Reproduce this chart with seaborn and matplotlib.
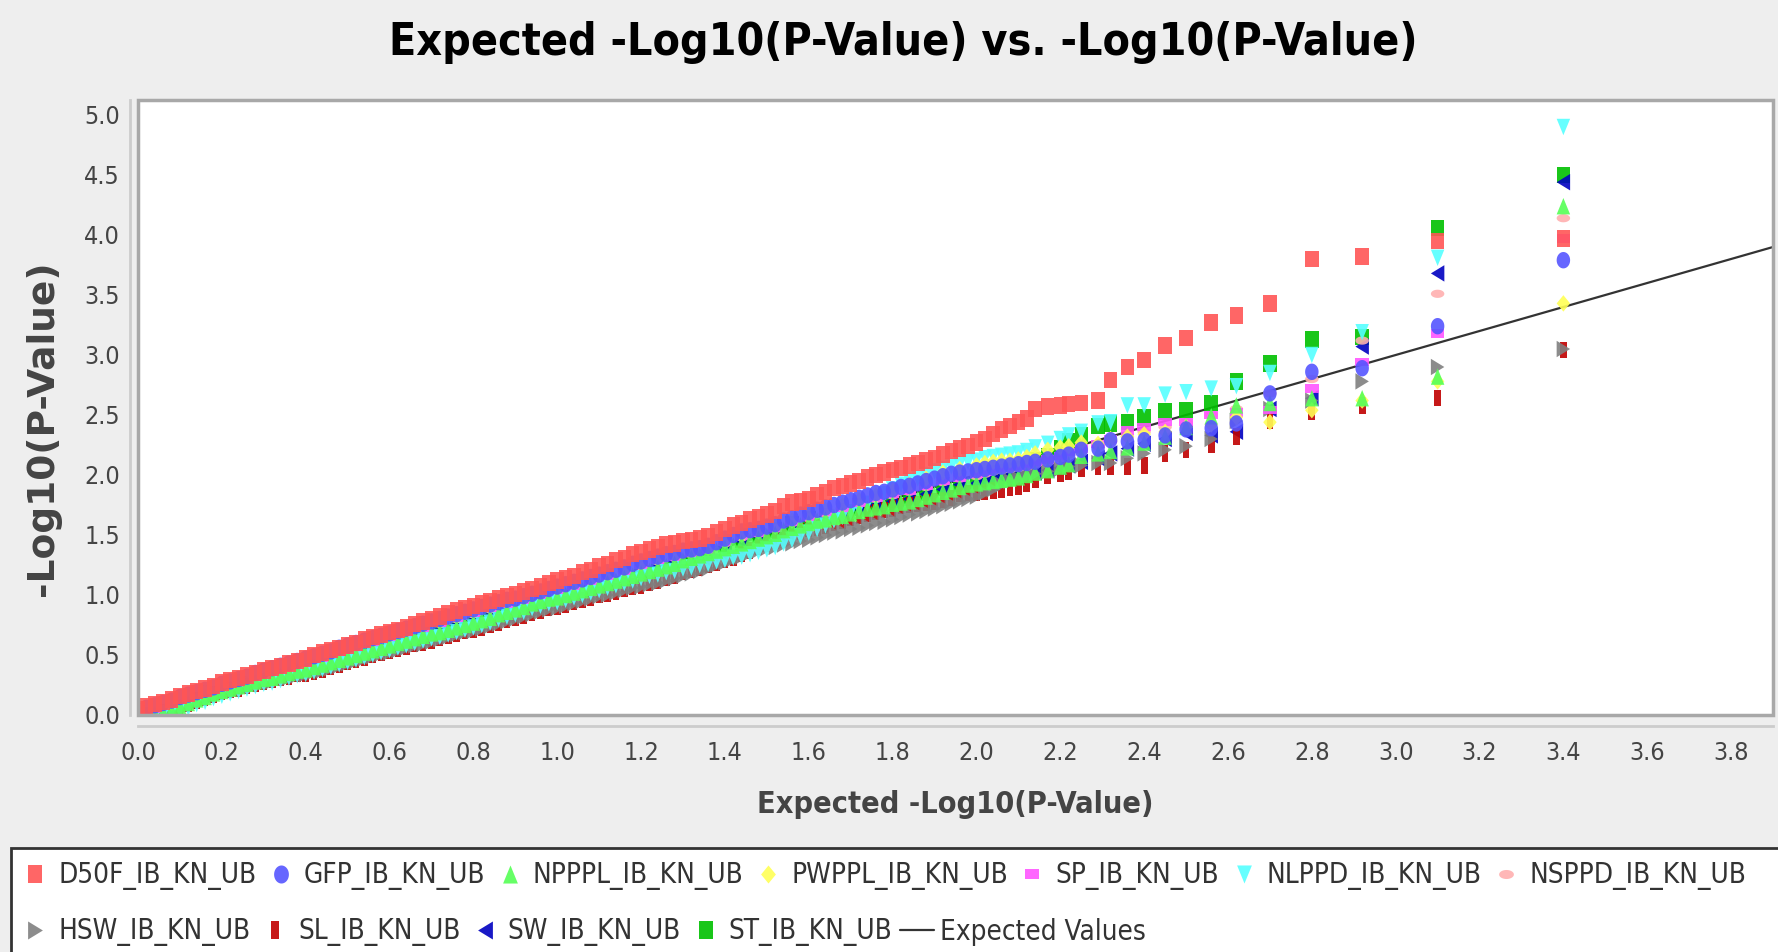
import numpy as np
import pandas as pd
import seaborn as sns
import matplotlib.pyplot as plt
from matplotlib import font_manager
from matplotlib.lines import Line2D
from matplotlib.patches import Rectangle
from matplotlib.path import Path

sns.set_style("white")

# pick a narrow face if there is one, the original text is quite condensed
fonts = font_manager.fontManager.ttflist
if any(f.name == "DejaVu Sans Condensed" for f in fonts):
    family, stretch, k = "DejaVu Sans Condensed", "normal", 1.0
elif any(f.name == "DejaVu Sans" and f.stretch != "normal" for f in fonts):
    family, stretch, k = "DejaVu Sans", "condensed", 1.0
elif any(f.name == "Liberation Sans Narrow" for f in fonts):
    family, stretch, k = "Liberation Sans Narrow", "normal", 1.05
else:
    family, stretch, k = "DejaVu Sans", "normal", 0.88
plt.rcParams["font.family"] = [family, "DejaVu Sans"]
plt.rcParams["font.stretch"] = stretch

series = ["D50F_IB_KN_UB", "GFP_IB_KN_UB", "NPPPL_IB_KN_UB", "PWPPL_IB_KN_UB",
          "SP_IB_KN_UB", "NLPPD_IB_KN_UB", "NSPPD_IB_KN_UB", "HSW_IB_KN_UB",
          "SL_IB_KN_UB", "SW_IB_KN_UB", "ST_IB_KN_UB"]

# expected -log10(p) positions: fine grid for the dense part of the visible
# bands, a coarser grid for the bands hidden inside them, then the top ranks
x_fine = [0.00, 0.02, 0.04, 0.06, 0.08, 0.10, 0.12, 0.14, 0.16, 0.18,
          0.20, 0.22, 0.24, 0.26, 0.28, 0.30, 0.32, 0.34, 0.36, 0.38,
          0.40, 0.42, 0.44, 0.46, 0.48, 0.50, 0.52, 0.54, 0.56, 0.58,
          0.60, 0.62, 0.64, 0.66, 0.68, 0.70, 0.72, 0.74, 0.76, 0.78,
          0.80, 0.82, 0.84, 0.86, 0.88, 0.90, 0.92, 0.94, 0.96, 0.98,
          1.00, 1.02, 1.04, 1.06, 1.08, 1.10, 1.12, 1.14, 1.16, 1.18,
          1.20, 1.22, 1.24, 1.26, 1.28, 1.30, 1.32, 1.34, 1.36, 1.38,
          1.40, 1.42, 1.44, 1.46, 1.48, 1.50, 1.52, 1.54, 1.56, 1.58,
          1.60, 1.62, 1.64, 1.66, 1.68, 1.70, 1.72, 1.74, 1.76, 1.78,
          1.80, 1.82, 1.84, 1.86, 1.88, 1.90, 1.92, 1.94, 1.96, 1.98]
x_coarse = [0.00, 0.04, 0.08, 0.12, 0.16, 0.20, 0.24, 0.28, 0.32, 0.36,
            0.40, 0.44, 0.48, 0.52, 0.56, 0.60, 0.64, 0.68, 0.72, 0.76,
            0.80, 0.84, 0.88, 0.92, 0.96, 1.00, 1.04, 1.08, 1.12, 1.16,
            1.20, 1.24, 1.28, 1.32, 1.36, 1.40, 1.44, 1.48, 1.52, 1.56,
            1.60, 1.64, 1.68, 1.72, 1.76, 1.80, 1.84, 1.88, 1.92, 1.96]
x_tail = [2.00, 2.02, 2.04, 2.06, 2.08, 2.10, 2.12, 2.14, 2.17, 2.20,
          2.22, 2.25, 2.29, 2.32, 2.36, 2.40, 2.45, 2.50, 2.56, 2.62,
          2.70, 2.80, 2.92, 3.10, 3.40]

# visible bands (fine grid + tail)
d50f = [0.05, 0.07, 0.09, 0.11, 0.13, 0.16, 0.18, 0.20, 0.22, 0.24,
        0.27, 0.29, 0.31, 0.33, 0.35, 0.37, 0.39, 0.41, 0.43, 0.45,
        0.47, 0.50, 0.52, 0.54, 0.56, 0.58, 0.60, 0.63, 0.65, 0.67,
        0.69, 0.71, 0.73, 0.76, 0.78, 0.80, 0.82, 0.85, 0.87, 0.89,
        0.91, 0.93, 0.95, 0.97, 0.99, 1.01, 1.03, 1.05, 1.07, 1.10,
        1.12, 1.14, 1.16, 1.19, 1.21, 1.24, 1.26, 1.29, 1.31, 1.34,
        1.36, 1.38, 1.40, 1.42, 1.43, 1.45, 1.46, 1.47, 1.49, 1.52,
        1.55, 1.58, 1.60, 1.63, 1.65, 1.67, 1.70, 1.74, 1.77, 1.78,
        1.80, 1.83, 1.86, 1.89, 1.91, 1.93, 1.95, 1.98, 2.00, 2.02,
        2.04, 2.06, 2.08, 2.10, 2.12, 2.14, 2.17, 2.20, 2.22, 2.24,
        2.27, 2.30, 2.34, 2.38, 2.41, 2.44, 2.47, 2.55, 2.57, 2.58,
        2.59, 2.60, 2.62, 2.79, 2.90, 2.96, 3.08, 3.14, 3.27, 3.33,
        3.43, 3.80, 3.82, 3.95, 3.97]
gfp = [0.03, 0.06, 0.08, 0.10, 0.12, 0.15, 0.17, 0.19, 0.21, 0.23,
       0.26, 0.28, 0.30, 0.32, 0.35, 0.37, 0.39, 0.41, 0.43, 0.45,
       0.47, 0.49, 0.51, 0.53, 0.56, 0.58, 0.60, 0.62, 0.64, 0.66,
       0.68, 0.70, 0.72, 0.74, 0.76, 0.78, 0.80, 0.82, 0.84, 0.86,
       0.88, 0.90, 0.92, 0.94, 0.96, 0.97, 0.99, 1.01, 1.03, 1.05,
       1.07, 1.09, 1.11, 1.13, 1.15, 1.17, 1.19, 1.21, 1.23, 1.26,
       1.28, 1.30, 1.32, 1.34, 1.35, 1.37, 1.38, 1.39, 1.41, 1.44,
       1.47, 1.50, 1.53, 1.54, 1.55, 1.57, 1.59, 1.62, 1.64, 1.67,
       1.69, 1.71, 1.73, 1.75, 1.77, 1.79, 1.81, 1.83, 1.85, 1.86,
       1.88, 1.90, 1.91, 1.93, 1.95, 1.97, 1.99, 2.01, 2.02, 2.03,
       2.04, 2.05, 2.06, 2.07, 2.08, 2.09, 2.10, 2.11, 2.13, 2.15,
       2.17, 2.21, 2.22, 2.29, 2.28, 2.29, 2.33, 2.38, 2.39, 2.43,
       2.68, 2.86, 2.89, 3.24, 3.79]
npppl = [0.00, 0.00, 0.01, 0.02, 0.04, 0.07, 0.10, 0.13, 0.15, 0.18,
         0.20, 0.22, 0.24, 0.26, 0.28, 0.30, 0.31, 0.33, 0.35, 0.37,
         0.38, 0.40, 0.42, 0.44, 0.46, 0.48, 0.50, 0.52, 0.54, 0.56,
         0.58, 0.60, 0.62, 0.64, 0.66, 0.68, 0.69, 0.71, 0.73, 0.75,
         0.77, 0.79, 0.81, 0.84, 0.86, 0.88, 0.90, 0.93, 0.95, 0.97,
         0.98, 1.00, 1.02, 1.04, 1.06, 1.08, 1.10, 1.12, 1.14, 1.16,
         1.18, 1.20, 1.22, 1.24, 1.26, 1.29, 1.31, 1.33, 1.35, 1.37,
         1.39, 1.41, 1.43, 1.45, 1.47, 1.49, 1.51, 1.54, 1.56, 1.58,
         1.60, 1.62, 1.63, 1.65, 1.66, 1.68, 1.70, 1.72, 1.73, 1.74,
         1.76, 1.77, 1.78, 1.80, 1.82, 1.84, 1.86, 1.88, 1.90, 1.92,
         1.93, 1.94, 1.95, 1.96, 1.97, 1.98, 2.00, 2.02, 2.04, 2.07,
         2.09, 2.16, 2.18, 2.20, 2.23, 2.27, 2.32, 2.40, 2.49, 2.58,
         2.60, 2.64, 2.64, 2.82, 4.24]
nlppd = [0.00, 0.00, 0.00, 0.01, 0.02, 0.04, 0.06, 0.09, 0.11, 0.14,
         0.16, 0.18, 0.20, 0.22, 0.24, 0.26, 0.27, 0.29, 0.31, 0.33,
         0.34, 0.36, 0.38, 0.40, 0.42, 0.44, 0.46, 0.48, 0.50, 0.52,
         0.54, 0.56, 0.58, 0.60, 0.62, 0.64, 0.65, 0.67, 0.69, 0.71,
         0.73, 0.75, 0.77, 0.80, 0.82, 0.84, 0.86, 0.89, 0.91, 0.93,
         0.94, 0.96, 0.98, 1.00, 1.02, 1.04, 1.06, 1.08, 1.10, 1.12,
         1.14, 1.16, 1.17, 1.19, 1.20, 1.22, 1.23, 1.25, 1.26, 1.28,
         1.29, 1.31, 1.32, 1.34, 1.36, 1.38, 1.40, 1.43, 1.46, 1.49,
         1.52, 1.55, 1.58, 1.62, 1.65, 1.69, 1.72, 1.76, 1.80, 1.84,
         1.88, 1.92, 1.95, 1.97, 2.00, 2.03, 2.05, 2.07, 2.09, 2.11,
         2.12, 2.14, 2.15, 2.16, 2.17, 2.18, 2.20, 2.23, 2.26, 2.30,
         2.33, 2.36, 2.43, 2.44, 2.58, 2.58, 2.67, 2.69, 2.72, 2.74,
         2.85, 3.00, 3.19, 3.81, 4.90]
hsw = [0.00, 0.00, 0.00, 0.01, 0.03, 0.05, 0.08, 0.11, 0.13, 0.16,
       0.18, 0.20, 0.21, 0.23, 0.25, 0.27, 0.28, 0.30, 0.31, 0.33,
       0.34, 0.36, 0.37, 0.39, 0.41, 0.43, 0.45, 0.47, 0.49, 0.51,
       0.52, 0.54, 0.56, 0.58, 0.59, 0.61, 0.63, 0.65, 0.67, 0.69,
       0.70, 0.72, 0.74, 0.76, 0.78, 0.80, 0.82, 0.84, 0.86, 0.88,
       0.89, 0.91, 0.93, 0.95, 0.97, 0.99, 1.00, 1.02, 1.04, 1.06,
       1.07, 1.09, 1.10, 1.12, 1.14, 1.16, 1.18, 1.20, 1.22, 1.25,
       1.27, 1.30, 1.32, 1.35, 1.37, 1.39, 1.40, 1.42, 1.43, 1.45,
       1.46, 1.48, 1.50, 1.52, 1.53, 1.55, 1.56, 1.58, 1.60, 1.61,
       1.63, 1.65, 1.67, 1.68, 1.70, 1.72, 1.74, 1.76, 1.78, 1.80,
       1.82, 1.85, 1.88, 1.92, 1.95, 1.97, 1.99, 2.01, 2.03, 2.05,
       2.07, 2.08, 2.10, 2.10, 2.14, 2.18, 2.21, 2.24, 2.30, 2.45,
       2.55, 2.62, 2.78, 2.90, 3.05]
sl = [0.00, 0.00, 0.01, 0.02, 0.04, 0.06, 0.09, 0.12, 0.14, 0.17,
      0.19, 0.21, 0.22, 0.24, 0.26, 0.28, 0.29, 0.31, 0.32, 0.34,
      0.345, 0.36, 0.38, 0.40, 0.42, 0.44, 0.46, 0.48, 0.50, 0.52,
      0.535, 0.55, 0.57, 0.59, 0.60, 0.62, 0.64, 0.66, 0.68, 0.70,
      0.71, 0.73, 0.75, 0.77, 0.79, 0.81, 0.83, 0.85, 0.87, 0.89,
      0.90, 0.92, 0.94, 0.96, 0.98, 1.00, 1.01, 1.03, 1.05, 1.07,
      1.08, 1.10, 1.12, 1.14, 1.16, 1.19, 1.21, 1.23, 1.25, 1.27,
      1.29, 1.31, 1.34, 1.37, 1.40, 1.43, 1.45, 1.48, 1.50, 1.53,
      1.55, 1.56, 1.58, 1.60, 1.62, 1.64, 1.66, 1.68, 1.69, 1.71,
      1.72, 1.74, 1.75, 1.76, 1.77, 1.78, 1.79, 1.81, 1.84, 1.85,
      1.85, 1.86, 1.87, 1.88, 1.89, 1.90, 1.93, 1.96, 1.99, 2.01,
      2.03, 2.05, 2.07, 2.07, 2.07, 2.08, 2.18, 2.21, 2.25, 2.32,
      2.45, 2.53, 2.58, 2.64, 3.04]

# bands that sit inside the others in the dense part (coarse grid + tail)
pwppl = [0.01, 0.06, 0.10, 0.15, 0.19, 0.24, 0.28, 0.33, 0.37, 0.41,
         0.45, 0.49, 0.54, 0.58, 0.62, 0.66, 0.70, 0.74, 0.78, 0.82,
         0.86, 0.90, 0.94, 0.97, 1.01, 1.05, 1.09, 1.13, 1.17, 1.21,
         1.26, 1.30, 1.33, 1.36, 1.39, 1.45, 1.50, 1.53, 1.57, 1.62,
         1.67, 1.71, 1.75, 1.79, 1.83, 1.87, 1.92, 1.97, 2.02, 2.05,
         2.08, 2.10, 2.11, 2.12, 2.12, 2.13, 2.15, 2.18, 2.21, 2.23,
         2.24, 2.27, 2.26, 2.30, 2.32, 2.34, 2.36, 2.40, 2.42, 2.48,
         2.44, 2.54, 2.62, 2.78, 3.43]
sp = [0.00, 0.05, 0.09, 0.14, 0.18, 0.23, 0.27, 0.32, 0.36, 0.40,
      0.44, 0.48, 0.53, 0.57, 0.61, 0.65, 0.69, 0.73, 0.77, 0.81,
      0.85, 0.89, 0.93, 0.96, 1.00, 1.04, 1.08, 1.12, 1.16, 1.20,
      1.25, 1.29, 1.32, 1.35, 1.38, 1.44, 1.49, 1.52, 1.56, 1.61,
      1.65, 1.69, 1.73, 1.77, 1.81, 1.84, 1.87, 1.91, 1.95, 1.98,
      2.01, 2.03, 2.05, 2.06, 2.07, 2.08, 2.09, 2.11, 2.13, 2.16,
      2.19, 2.22, 2.26, 2.30, 2.37, 2.40, 2.44, 2.44, 2.50, 2.52,
      2.54, 2.72, 2.94, 3.18, 3.97]
nsppd = [0.00, 0.04, 0.08, 0.13, 0.17, 0.22, 0.26, 0.31, 0.35, 0.39,
         0.43, 0.47, 0.52, 0.56, 0.60, 0.64, 0.68, 0.72, 0.76, 0.80,
         0.84, 0.88, 0.92, 0.95, 0.99, 1.03, 1.07, 1.11, 1.15, 1.19,
         1.24, 1.28, 1.31, 1.34, 1.37, 1.43, 1.48, 1.51, 1.55, 1.60,
         1.64, 1.68, 1.72, 1.76, 1.80, 1.83, 1.86, 1.90, 1.94, 1.97,
         1.99, 2.01, 2.03, 2.04, 2.05, 2.06, 2.07, 2.09, 2.11, 2.14,
         2.17, 2.20, 2.24, 2.28, 2.32, 2.36, 2.40, 2.44, 2.50, 2.55,
         2.68, 2.80, 3.12, 3.51, 4.14]
sw = [0.02, 0.03, 0.06, 0.12, 0.17, 0.22, 0.26, 0.30, 0.33, 0.37,
      0.40, 0.44, 0.48, 0.52, 0.56, 0.60, 0.64, 0.68, 0.71, 0.75,
      0.79, 0.83, 0.88, 0.92, 0.97, 1.00, 1.04, 1.08, 1.12, 1.16,
      1.20, 1.24, 1.28, 1.33, 1.37, 1.41, 1.45, 1.49, 1.53, 1.58,
      1.62, 1.65, 1.68, 1.72, 1.75, 1.78, 1.80, 1.84, 1.88, 1.92,
      1.93, 1.94, 1.95, 1.96, 1.97, 1.98, 2.00, 2.02, 2.04, 2.06,
      2.08, 2.11, 2.14, 2.18, 2.22, 2.26, 2.30, 2.35, 2.33, 2.36,
      2.55, 2.64, 3.07, 3.68, 4.44]
st = [0.03, 0.04, 0.07, 0.13, 0.18, 0.23, 0.27, 0.31, 0.34, 0.38,
      0.41, 0.45, 0.49, 0.53, 0.57, 0.61, 0.65, 0.69, 0.72, 0.76,
      0.80, 0.84, 0.89, 0.93, 0.98, 1.01, 1.05, 1.09, 1.13, 1.17,
      1.21, 1.25, 1.29, 1.34, 1.38, 1.42, 1.46, 1.50, 1.54, 1.59,
      1.63, 1.66, 1.69, 1.73, 1.76, 1.79, 1.81, 1.85, 1.89, 1.93,
      1.95, 1.97, 1.99, 2.01, 2.03, 2.05, 2.08, 2.12, 2.16, 2.22,
      2.28, 2.33, 2.41, 2.43, 2.44, 2.48, 2.53, 2.54, 2.60, 2.78,
      2.93, 3.13, 3.15, 4.06, 4.50]

line_x = [0.0, 3.9]
line_y = [0.0, 3.9]

values = [d50f, gfp, npppl, pwppl, sp, nlppd, nsppd, hsw, sl, sw, st]
colors = ["#ff5555", "#5555ff", "#55ff55", "#ffff55", "#ff55ff", "#55ffff",
          "#ffafaf", "#808080", "#c00000", "#0000c0", "#00c000"]


# JFreeChart default shape sequence; the original picture is squeezed
# sideways, so every shape is a bit taller than wide
def shape(pts):
    # two lone moveto points pin the scale so all shapes share one size
    verts = [(0, 1), (0, -1)] + pts + [pts[0]]
    codes = [Path.MOVETO, Path.MOVETO, Path.MOVETO] + [Path.LINETO] * (len(pts) - 1) + [Path.CLOSEPOLY]
    return Path(verts, codes)


a = 0.82
t = np.linspace(0, 2 * np.pi, 40, endpoint=False)
square = shape([(-a, -1), (a, -1), (a, 1), (-a, 1)])
circle = shape(list(zip(a * np.cos(t), np.sin(t))))
up = shape([(0, 1), (-a, -1), (a, -1)])
diamond = shape([(0, 1), (a, 0), (0, -1), (-a, 0)])
hrect = shape([(-a, -0.5), (a, -0.5), (a, 0.5), (-a, 0.5)])
down = shape([(0, -1), (a, 1), (-a, 1)])
ellipse = shape(list(zip(a * np.cos(t), 0.5 * np.sin(t))))
right = shape([(a, 0), (-a, 1), (-a, -1)])
vrect = shape([(-a / 2, -1), (a / 2, -1), (a / 2, 1), (-a / 2, 1)])
left = shape([(-a, 0), (a, -1), (a, 1)])
shapes = [square, circle, up, diamond, hrect, down, ellipse, right, vrect, left, square]

frames = []
# last series first so D50F ends up on top, like the original
for name, ys in reversed(list(zip(series, values))):
    xs = (x_fine if len(ys) == len(x_fine) + len(x_tail) else x_coarse) + x_tail
    frames.append(pd.DataFrame({"x": xs, "y": ys, "series": name}))
df = pd.concat(frames, ignore_index=True)

fig = plt.figure(figsize=(17.78, 9.52), dpi=100, facecolor="#eeeeee")
ax = fig.add_axes([138 / 1778, 1 - 715 / 952, 1635 / 1778, 615 / 952])
ax.set_facecolor("white")

sns.lineplot(x=line_x, y=line_y, color="#333333", linewidth=1.6, ax=ax, zorder=1)
sns.scatterplot(data=df, x="x", y="y", hue="series", style="series",
                palette=dict(zip(series, colors)), markers=dict(zip(series, shapes)),
                s=140, linewidth=0, alpha=0.9, legend=False, ax=ax, zorder=2)

ax.set_xlim(0, 3.9)
ax.set_ylim(0, 5.125)
ax.set_xticks(np.arange(0, 3.81, 0.2))
ax.set_yticks(np.arange(0, 5.01, 0.5))
ax.set_xticklabels([f"{v:.1f}" for v in np.arange(0, 3.81, 0.2)])
ax.set_yticklabels([f"{v:.1f}" for v in np.arange(0, 5.01, 0.5)])
ax.tick_params(axis="both", labelsize=18 * k, labelcolor="#444444", color="#aaaaaa",
               length=4, width=1.2, direction="inout")
ax.tick_params(axis="x", pad=9)
ax.tick_params(axis="y", pad=5)

for side in ["top", "right"]:
    ax.spines[side].set_visible(False)
ax.spines["left"].set_position(("outward", 6))
ax.spines["bottom"].set_position(("outward", 8))
for side in ["left", "bottom"]:
    ax.spines[side].set_color("#cccccc")
    ax.spines[side].set_linewidth(2)
ax.add_patch(Rectangle((0, 0), 1, 1, transform=ax.transAxes, fill=False,
                       edgecolor="#a8a8a8", linewidth=2.5, clip_on=False, zorder=5))

ax.set_xlabel("Expected -Log10(P-Value)", fontsize=22 * k, fontweight="bold", color="#444444")
# the vertical title is not squeezed along its length in the original
ax.set_ylabel("-Log10(P-Value)", fontsize=27, fontweight="bold", color="#444444",
              family="DejaVu Sans", fontstretch="normal")
ax.xaxis.set_label_coords(0.5, -0.122)
ax.yaxis.set_label_coords(-0.047, 0.467)

fig.text(0.508, 0.955, "Expected -Log10(P-Value) vs. -Log10(P-Value)",
         ha="center", va="center", fontsize=32 * k, fontweight="bold", color="black")

# legend panel along the bottom
fig.patches.append(Rectangle((11 / 1778, -0.01), 1, (952 - 848) / 952 + 0.01,
                             transform=fig.transFigure, facecolor="white",
                             edgecolor="#333333", linewidth=2))


def handle(i):
    return Line2D([], [], linestyle="None", marker=shapes[i], markersize=13,
                  markerfacecolor=colors[i], markeredgewidth=0, alpha=0.9)


row1 = [handle(i) for i in range(7)]
row2 = [handle(i) for i in range(7, 11)] + [Line2D([], [], color="#333333", linewidth=1.6)]
lab2 = series[7:] + ["Expected Values"]
for hs, labs, y in [(row1, series[:7], 1 - 876 / 952), (row2, lab2, 1 - 932 / 952)]:
    leg = fig.legend(hs, labs, loc="center left", bbox_to_anchor=(18 / 1778, y),
                     ncol=len(hs), frameon=False, handlelength=1.25, handletextpad=0.2,
                     columnspacing=0.26, borderpad=0, borderaxespad=0,
                     prop={"size": 20 * k})
    for txt in leg.get_texts():
        txt.set_color("#333333")

fig.savefig("out.png", dpi=100, facecolor=fig.get_facecolor())
